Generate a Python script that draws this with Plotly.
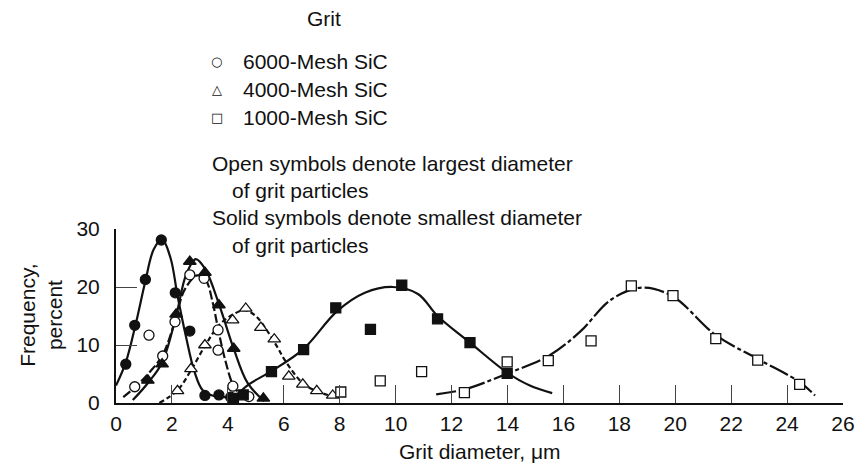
import plotly.graph_objects as go

# ---- measured points (grit diameter in micrometres, frequency in percent) ----
# 6000-mesh SiC
sic6000_small_x = [0.35, 0.67, 1.05, 1.62, 2.12, 2.64, 3.18, 3.68, 4.1]
sic6000_small_y = [6.7, 13.4, 21.3, 28.1, 19.0, 12.4, 1.3, 1.4, 1.0]
sic6000_large_x = [0.67, 1.18, 1.67, 2.11, 2.64, 3.15, 3.65, 3.65, 4.18, 4.75]
sic6000_large_y = [2.8, 11.7, 8.1, 14.0, 22.1, 21.5, 12.6, 9.1, 2.9, 1.1]
# 4000-mesh SiC
sic4000_small_x = [1.14, 1.65, 2.15, 2.64, 3.18, 3.68, 4.21, 5.27]
sic4000_small_y = [3.9, 6.7, 15.3, 24.4, 22.5, 16.9, 9.4, 0.8]
sic4000_large_x = [2.2, 2.68, 3.18, 4.17, 4.64, 5.18, 5.66, 6.18, 6.68, 7.18, 7.75]
sic4000_large_y = [2.1, 5.9, 10.0, 14.3, 16.3, 13.0, 11.0, 4.6, 3.2, 2.1, 1.3]
# 1000-mesh SiC
sic1000_small_x = [4.2, 4.55, 5.56, 6.71, 7.86, 9.1, 10.22, 11.5, 12.66, 13.99]
sic1000_small_y = [0.8, 1.4, 5.4, 9.2, 16.4, 12.7, 20.3, 14.5, 10.4, 5.1]
sic1000_large_x = [8.04, 9.45, 10.93, 12.46, 13.99, 15.46, 16.99, 18.43, 19.92, 21.45, 22.95, 24.45]
sic1000_large_y = [1.9, 3.8, 5.4, 1.8, 7.1, 7.3, 10.7, 20.2, 18.5, 11.1, 7.4, 3.2]

# ---- faired distribution curves ----
fit6000_small_x = [0.0, 0.35, 0.7, 1.05, 1.35, 1.65, 1.95, 2.2, 2.5, 2.8, 3.1, 3.5, 4.0]
fit6000_small_y = [3.0, 7.0, 13.5, 21.0, 26.5, 28.2, 25.0, 18.5, 11.5, 5.5, 2.2, 1.2, 1.0]
fit6000_large_x = [0.26, 0.7, 1.2, 1.67, 2.1, 2.45, 2.9, 3.2, 3.45, 3.65, 3.9, 4.2, 4.5, 4.75]
fit6000_large_y = [1.0, 2.8, 5.3, 8.3, 14.0, 19.5, 22.0, 21.3, 17.5, 12.8, 7.5, 3.0, 1.2, 0.5]
fit4000_small_x = [0.6, 1.15, 1.65, 2.15, 2.5, 2.85, 3.2, 3.7, 4.2, 4.7, 5.3]
fit4000_small_y = [0.5, 3.5, 7.0, 15.0, 22.0, 24.8, 23.0, 16.8, 9.5, 3.5, 0.3]
fit4000_large_x = [1.55, 2.2, 2.7, 3.2, 3.7, 4.2, 4.6, 5.0, 5.4, 5.75, 6.05, 6.7, 7.2, 7.7]
fit4000_large_y = [0.0, 2.2, 5.8, 10.0, 13.5, 15.3, 16.0, 15.0, 12.5, 9.8, 7.3, 3.3, 2.0, 1.2]
fit1000_small_x = [4.2, 4.75, 5.56, 6.7, 7.9, 8.9, 9.9, 10.8, 11.5, 12.66, 14.0, 14.8, 15.6]
fit1000_small_y = [0.8, 3.2, 5.5, 9.3, 15.8, 19.0, 20.0, 18.8, 15.0, 10.4, 5.2, 3.0, 1.7]
fit1000_large_x = [11.45, 12.5, 14.0, 15.5, 16.6, 17.7, 18.8, 19.9, 21.45, 22.95, 24.45, 25.0]
fit1000_large_y = [1.5, 2.4, 5.1, 8.2, 12.3, 17.8, 19.9, 18.4, 11.7, 7.6, 3.6, 1.3]

x_ticks = list(range(0, 27, 2))
y_ticks = [0, 10, 20, 30]

legend_labels = ["6000-Mesh SiC", "4000-Mesh SiC", "1000-Mesh SiC"]
legend_symbols = ["○", "△", "□"]

FONT = "Liberation Sans, Arial, Helvetica, sans-serif"
INK = "#111111"

W, H = 867, 472
ML, MR, MT, MB = 116, 16, 229, 69
PW, PH = W - ML - MR, H - MT - MB


def paper_x(px):
    return (px - ML) / PW


def paper_y(py):
    return (H - MB - py) / PH


fig = go.Figure()

curves = [
    (fit6000_small_x, fit6000_small_y, "solid"),
    (fit6000_large_x, fit6000_large_y, "9px,3px"),
    (fit4000_small_x, fit4000_small_y, "solid"),
    (fit4000_large_x, fit4000_large_y, "5px,3px"),
    (fit1000_small_x, fit1000_small_y, "solid"),
    (fit1000_large_x, fit1000_large_y, "20px,3px,4px,3px"),
]
for cx, cy, dash in curves:
    fig.add_trace(go.Scatter(
        x=cx, y=cy, mode="lines",
        line=dict(color=INK, width=2.2, dash=dash, shape="spline", smoothing=1.0),
        hoverinfo="skip",
    ))

markers = [
    (sic6000_small_x, sic6000_small_y, "circle", 10, INK),
    (sic6000_large_x, sic6000_large_y, "circle", 10, "white"),
    (sic4000_small_x, sic4000_small_y, "triangle-up", 11, INK),
    (sic4000_large_x, sic4000_large_y, "triangle-up", 11, "white"),
    (sic1000_small_x, sic1000_small_y, "square", 10, INK),
    (sic1000_large_x, sic1000_large_y, "square", 10, "white"),
]
for mx, my, sym, size, fill in markers:
    fig.add_trace(go.Scatter(
        x=mx, y=my, mode="markers",
        marker=dict(symbol=sym, size=size, color=fill, line=dict(color=INK, width=1.3)),
        cliponaxis=False,
    ))

annotations = []
# key block above the plot
annotations.append(dict(text="Grit", x=paper_x(326), y=paper_y(18), xanchor="center", yanchor="middle",
                        font=dict(size=21)))
for i, (sym, lab) in enumerate(zip(legend_symbols, legend_labels)):
    py = 61 + i * 28.3
    annotations.append(dict(text=sym, x=paper_x(218), y=paper_y(py), xanchor="center", yanchor="middle",
                            font=dict(size=13, family="DejaVu Sans")))
    annotations.append(dict(text=lab, x=paper_x(242), y=paper_y(py), xanchor="left", yanchor="middle"))
note_lines = [
    ("Open symbols denote largest diameter", 211, 163),
    ("of grit particles", 231, 190),
    ("Solid symbols denote smallest diameter", 211, 218),
    ("of grit particles", 231, 245),
]
for txt, px, py in note_lines:
    annotations.append(dict(text=txt, x=paper_x(px), y=paper_y(py), xanchor="left", yanchor="middle"))

# axis titles
annotations.append(dict(text="Frequency,<br>percent", x=paper_x(40), y=paper_y(315), xanchor="center",
                        yanchor="middle", textangle=-90))
annotations.append(dict(text="Grit diameter, μm", x=paper_x(484), y=paper_y(451), xanchor="center",
                        yanchor="middle"))

for a in annotations:
    a.update(xref="paper", yref="paper", showarrow=False)
    a.setdefault("font", {})
    a["font"] = dict(dict(family=FONT, size=21, color=INK), **a["font"])

fig.update_layout(
    width=W, height=H,
    margin=dict(l=ML, r=MR, t=MT, b=MB, pad=0),
    paper_bgcolor="white", plot_bgcolor="white",
    showlegend=False,
    font=dict(family=FONT, size=21, color=INK),
    annotations=annotations,
)
fig.update_xaxes(
    range=[0, 26], tickvals=x_ticks, ticktext=[str(v) for v in x_ticks],
    ticks="inside", ticklen=18, tickwidth=1.4, tickcolor="#444444",
    showline=True, linecolor=INK, linewidth=2, showgrid=False, zeroline=False,
    ticklabelstandoff=1,
)
fig.update_yaxes(
    range=[0, 30], tickvals=y_ticks, ticktext=[str(v) for v in y_ticks],
    ticks="inside", ticklen=21, tickwidth=1.4, tickcolor="#444444",
    showline=True, linecolor=INK, linewidth=2, showgrid=False, zeroline=False,
    ticklabelstandoff=10,
)

fig.write_html("out.html")
